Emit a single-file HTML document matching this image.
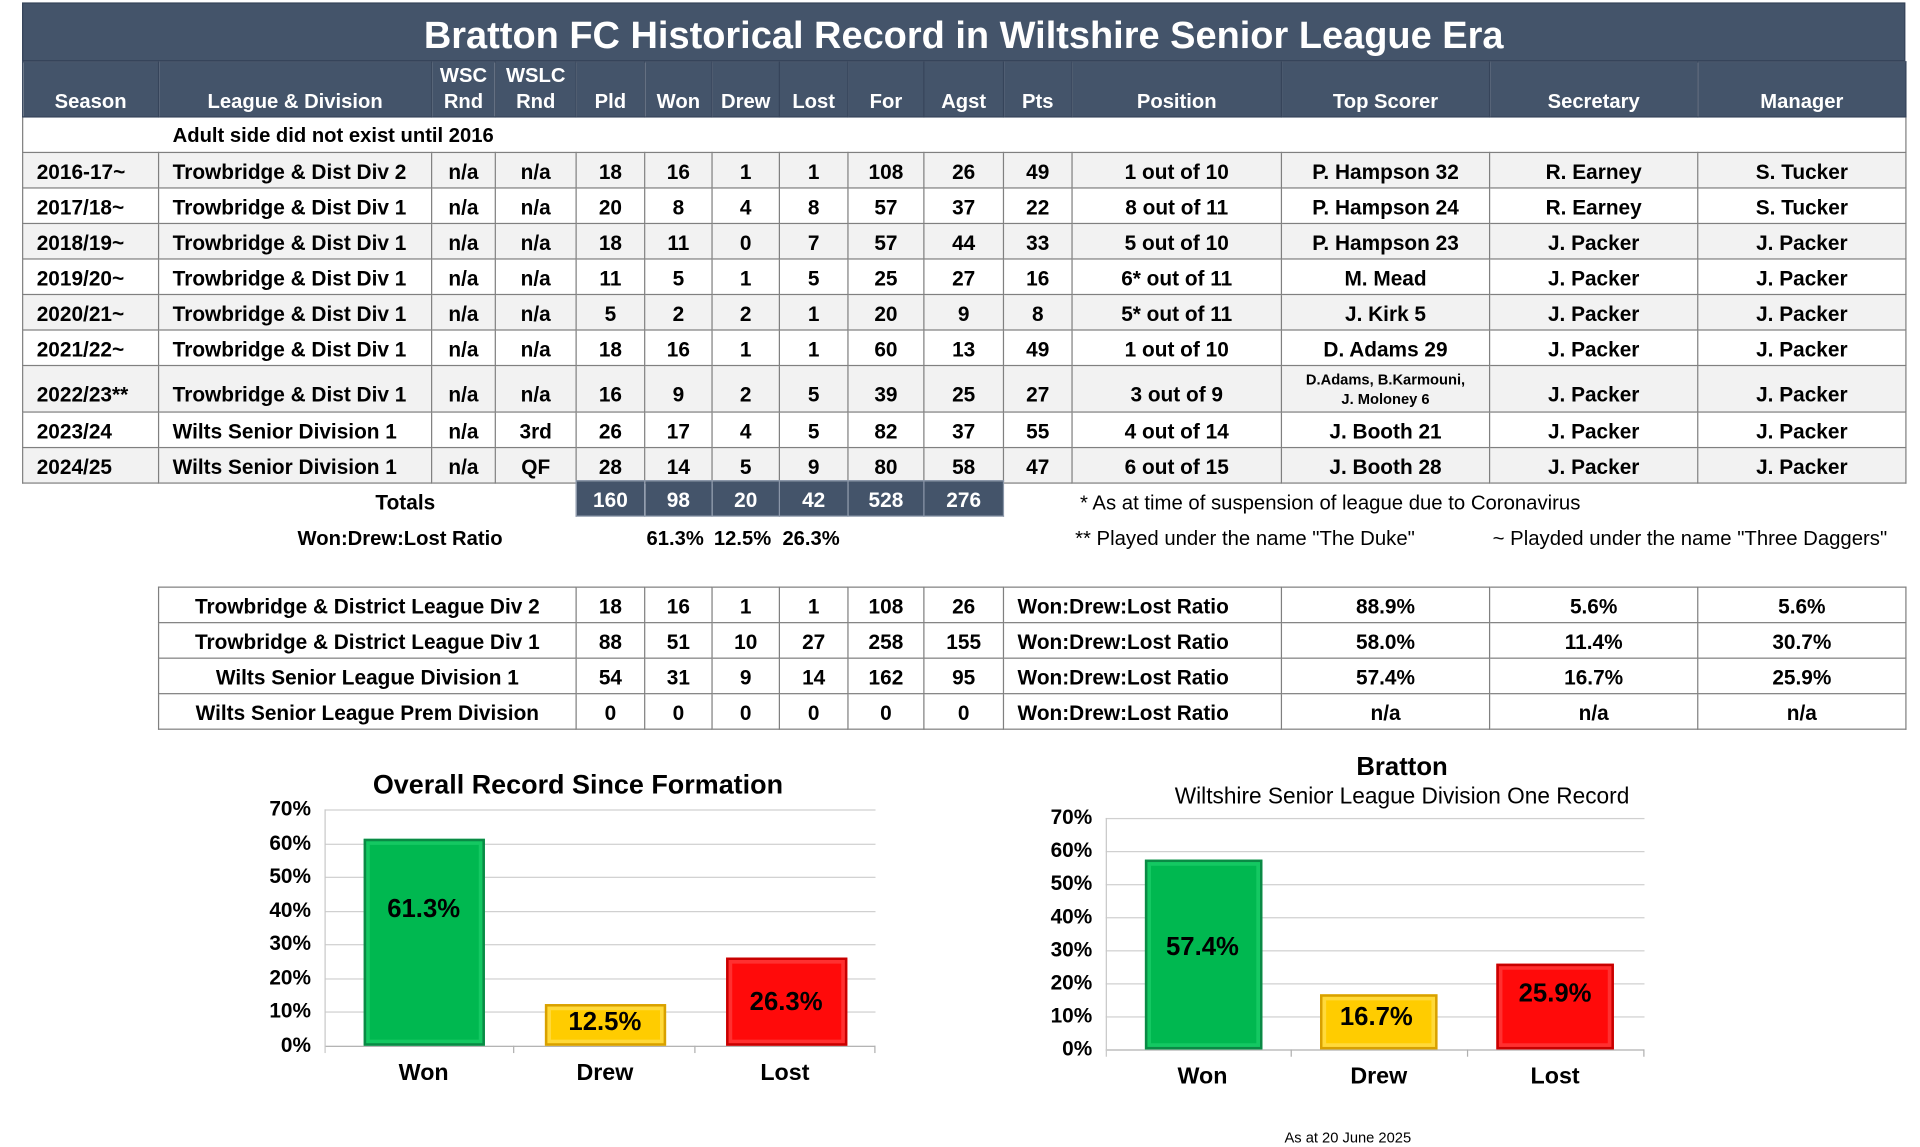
<!DOCTYPE html>
<html><head><meta charset="utf-8"><style>
*{margin:0;padding:0;box-sizing:border-box}
body{width:1920px;height:1147px;background:#fff;overflow:hidden;font-family:"Liberation Sans",Arial,sans-serif;font-weight:bold;color:#000}
#w{position:absolute;left:0;top:0;width:1568px;height:937px;transform:scale(1.22449);transform-origin:0 0}
.a{position:absolute;white-space:nowrap}
table{position:absolute;border-collapse:collapse;table-layout:fixed}
td{font-size:17px;text-align:center;vertical-align:middle;border:1px solid #808080;white-space:nowrap;overflow:hidden;padding-top:3px}
#t td{height:29px}
#t tr.h td{background:#44546a;color:#fff;height:45px;vertical-align:bottom;padding-bottom:1px;padding-top:0;font-size:16.5px;border:1px solid #36445a;line-height:21px}
#t tr.g td{background:#f2f2f2}
.l{text-align:left;padding-left:11px}
.grid{position:absolute;height:1px;background:#d0d0d0}
.yl{position:absolute;font-size:17px;text-align:right;width:50px}
.bar{position:absolute;border:2px solid}
.bl{position:absolute;font-size:21px;text-align:center}
.c{position:absolute;font-size:19px;text-align:center;width:100px}
.fn{position:absolute;white-space:nowrap;font-size:16.6px;font-weight:normal}
</style></head><body><div id="w">
<div class="a" style="left:18px;top:2px;width:1538px;height:48px;background:#44546a;color:#fff;font-size:31px;text-align:center;line-height:52px;border:1px solid #36445a">Bratton FC Historical Record in Wiltshire Senior League Era</div>
<table id="t" style="left:18px;top:50px;width:1538px">
<colgroup><col style="width:111px"><col style="width:223px"><col style="width:52px"><col style="width:66px"><col style="width:56px"><col style="width:55px"><col style="width:55px"><col style="width:56px"><col style="width:62px"><col style="width:65px"><col style="width:56px"><col style="width:171px"><col style="width:170px"><col style="width:170px"><col style="width:170px"></colgroup>
<tr class="h"><td>Season</td><td>League &amp; Division</td><td>WSC<br>Rnd</td><td>WSLC<br>Rnd</td><td>Pld</td><td>Won</td><td>Drew</td><td>Lost</td><td>For</td><td>Agst</td><td>Pts</td><td>Position</td><td>Top Scorer</td><td>Secretary</td><td>Manager</td></tr>
<tr><td colspan="15" class="l" style="padding-left:122px;border-left:1px solid #808080;font-size:16.5px">Adult side did not exist until 2016</td></tr>
<tr class="g"><td class="l">2016-17~</td><td class="l">Trowbridge &amp; Dist Div 2</td><td>n/a</td><td>n/a</td><td>18</td><td>16</td><td>1</td><td>1</td><td>108</td><td>26</td><td>49</td><td>1 out of 10</td><td>P. Hampson 32</td><td>R. Earney</td><td>S. Tucker</td></tr>
<tr><td class="l">2017/18~</td><td class="l">Trowbridge &amp; Dist Div 1</td><td>n/a</td><td>n/a</td><td>20</td><td>8</td><td>4</td><td>8</td><td>57</td><td>37</td><td>22</td><td>8 out of 11</td><td>P. Hampson 24</td><td>R. Earney</td><td>S. Tucker</td></tr>
<tr class="g"><td class="l">2018/19~</td><td class="l">Trowbridge &amp; Dist Div 1</td><td>n/a</td><td>n/a</td><td>18</td><td>11</td><td>0</td><td>7</td><td>57</td><td>44</td><td>33</td><td>5 out of 10</td><td>P. Hampson 23</td><td>J. Packer</td><td>J. Packer</td></tr>
<tr><td class="l">2019/20~</td><td class="l">Trowbridge &amp; Dist Div 1</td><td>n/a</td><td>n/a</td><td>11</td><td>5</td><td>1</td><td>5</td><td>25</td><td>27</td><td>16</td><td>6* out of 11</td><td>M. Mead</td><td>J. Packer</td><td>J. Packer</td></tr>
<tr class="g"><td class="l">2020/21~</td><td class="l">Trowbridge &amp; Dist Div 1</td><td>n/a</td><td>n/a</td><td>5</td><td>2</td><td>2</td><td>1</td><td>20</td><td>9</td><td>8</td><td>5* out of 11</td><td>J. Kirk 5</td><td>J. Packer</td><td>J. Packer</td></tr>
<tr><td class="l">2021/22~</td><td class="l">Trowbridge &amp; Dist Div 1</td><td>n/a</td><td>n/a</td><td>18</td><td>16</td><td>1</td><td>1</td><td>60</td><td>13</td><td>49</td><td>1 out of 10</td><td>D. Adams 29</td><td>J. Packer</td><td>J. Packer</td></tr>
<tr class="g"><td class="l" style="height:38px;vertical-align:bottom;padding-bottom:3px">2022/23**</td><td class="l" style="vertical-align:bottom;padding-bottom:3px">Trowbridge &amp; Dist Div 1</td><td style="vertical-align:bottom;padding-bottom:3px">n/a</td><td style="vertical-align:bottom;padding-bottom:3px">n/a</td><td style="vertical-align:bottom;padding-bottom:3px">16</td><td style="vertical-align:bottom;padding-bottom:3px">9</td><td style="vertical-align:bottom;padding-bottom:3px">2</td><td style="vertical-align:bottom;padding-bottom:3px">5</td><td style="vertical-align:bottom;padding-bottom:3px">39</td><td style="vertical-align:bottom;padding-bottom:3px">25</td><td style="vertical-align:bottom;padding-bottom:3px">27</td><td style="vertical-align:bottom;padding-bottom:3px">3 out of 9</td><td style="font-size:12px;line-height:16px;padding-top:0">D.Adams, B.Karmouni,<br>J. Moloney 6</td><td style="vertical-align:bottom;padding-bottom:3px">J. Packer</td><td style="vertical-align:bottom;padding-bottom:3px">J. Packer</td></tr>
<tr><td class="l">2023/24</td><td class="l">Wilts Senior Division 1</td><td>n/a</td><td>3rd</td><td>26</td><td>17</td><td>4</td><td>5</td><td>82</td><td>37</td><td>55</td><td>4 out of 14</td><td>J. Booth 21</td><td>J. Packer</td><td>J. Packer</td></tr>
<tr class="g"><td class="l">2024/25</td><td class="l">Wilts Senior Division 1</td><td>n/a</td><td>QF</td><td>28</td><td>14</td><td>5</td><td>9</td><td>80</td><td>58</td><td>47</td><td>6 out of 15</td><td>J. Booth 28</td><td>J. Packer</td><td>J. Packer</td></tr>
</table>
<div class="a" style="left:281px;top:401px;width:100px;text-align:center;font-size:17px">Totals</div>
<table style="left:470px;top:392px;width:349px"><tr>
<td style="width:56px;height:29px;background:#44546a;color:#fff;border-color:#8a96a8">160</td><td style="width:55px;background:#44546a;color:#fff;border-color:#8a96a8">98</td><td style="width:55px;background:#44546a;color:#fff;border-color:#8a96a8">20</td><td style="width:56px;background:#44546a;color:#fff;border-color:#8a96a8">42</td><td style="width:62px;background:#44546a;color:#fff;border-color:#8a96a8">528</td><td style="width:65px;background:#44546a;color:#fff;border-color:#8a96a8">276</td></tr></table>
<div class="a" style="left:243px;top:431px;font-size:16.5px">Won:Drew:Lost Ratio</div>
<div class="a" style="left:528px;top:431px;font-size:16.5px">61.3%</div>
<div class="a" style="left:583px;top:431px;font-size:16.5px">12.5%</div>
<div class="a" style="left:639px;top:431px;font-size:16.5px">26.3%</div>
<div class="fn" style="left:882px;top:401px">* As at time of suspension of league due to Coronavirus</div>
<div class="fn" style="left:878px;top:430px">** Played under the name "The Duke"</div>
<div class="fn" style="left:1219px;top:430px">~ Playded under the name "Three Daggers"</div>
<table style="left:129px;top:479px;width:1427px">
<colgroup><col style="width:341px"><col style="width:56px"><col style="width:55px"><col style="width:55px"><col style="width:56px"><col style="width:62px"><col style="width:65px"><col style="width:227px"><col style="width:170px"><col style="width:170px"><col style="width:170px"></colgroup>
<tr><td style="height:29px">Trowbridge &amp; District League Div 2</td><td>18</td><td>16</td><td>1</td><td>1</td><td>108</td><td>26</td><td class="l">Won:Drew:Lost Ratio</td><td>88.9%</td><td>5.6%</td><td>5.6%</td></tr>
<tr><td style="height:29px">Trowbridge &amp; District League Div 1</td><td>88</td><td>51</td><td>10</td><td>27</td><td>258</td><td>155</td><td class="l">Won:Drew:Lost Ratio</td><td>58.0%</td><td>11.4%</td><td>30.7%</td></tr>
<tr><td style="height:29px">Wilts Senior League Division 1</td><td>54</td><td>31</td><td>9</td><td>14</td><td>162</td><td>95</td><td class="l">Won:Drew:Lost Ratio</td><td>57.4%</td><td>16.7%</td><td>25.9%</td></tr>
<tr><td style="height:29px">Wilts Senior League Prem Division</td><td>0</td><td>0</td><td>0</td><td>0</td><td>0</td><td>0</td><td class="l">Won:Drew:Lost Ratio</td><td>n/a</td><td>n/a</td><td>n/a</td></tr>
</table>

<!-- Chart 1 -->
<div class="a" style="left:272px;top:628px;width:400px;text-align:center;font-size:22px">Overall Record Since Formation</div>
<div class="grid" style="left:265px;width:450px;top:661px"></div>
<div class="grid" style="left:265px;width:450px;top:688.6px"></div>
<div class="grid" style="left:265px;width:450px;top:716.1px"></div>
<div class="grid" style="left:265px;width:450px;top:743.7px"></div>
<div class="grid" style="left:265px;width:450px;top:771.3px"></div>
<div class="grid" style="left:265px;width:450px;top:798.9px"></div>
<div class="grid" style="left:265px;width:450px;top:826.4px"></div>
<div class="grid" style="left:265px;width:450px;top:854px;background:#b0b0b0"></div>
<div class="a" style="left:265px;top:661px;width:1px;height:199px;background:#c8c8c8"></div>
<div class="a" style="left:419px;top:854px;width:1px;height:6px;background:#b0b0b0"></div>
<div class="a" style="left:567px;top:854px;width:1px;height:6px;background:#b0b0b0"></div>
<div class="a" style="left:714px;top:854px;width:1px;height:6px;background:#b0b0b0"></div>
<div class="yl" style="left:204px;top:651px">70%</div>
<div class="yl" style="left:204px;top:678.6px">60%</div>
<div class="yl" style="left:204px;top:706.1px">50%</div>
<div class="yl" style="left:204px;top:733.7px">40%</div>
<div class="yl" style="left:204px;top:761.3px">30%</div>
<div class="yl" style="left:204px;top:788.9px">20%</div>
<div class="yl" style="left:204px;top:816.4px">10%</div>
<div class="yl" style="left:204px;top:844px">0%</div>
<div class="bar" style="left:297px;top:685px;width:99px;height:169px;background:#00b850;border-color:#0a8a45;box-shadow:inset 0 0 0 3px #14c862"></div>
<div class="bar" style="left:445px;top:820px;width:99px;height:34px;background:#ffcc00;border-color:#d8a000;box-shadow:inset 0 0 0 3px #ffd93a"></div>
<div class="bar" style="left:593px;top:782px;width:99px;height:72px;background:#ff0a0a;border-color:#c80000;box-shadow:inset 0 0 0 3px #ff3030"></div>
<div class="bl" style="left:296px;top:731px;width:100px">61.3%</div>
<div class="bl" style="left:444px;top:823px;width:100px">12.5%</div>
<div class="bl" style="left:592px;top:807px;width:100px">26.3%</div>
<div class="c" style="left:296px;top:866px">Won</div>
<div class="c" style="left:444px;top:866px">Drew</div>
<div class="c" style="left:591px;top:866px">Lost</div>

<!-- Chart 2 -->
<div class="a" style="left:1045px;top:615px;width:200px;text-align:center;font-size:21px">Bratton</div>
<div class="a" style="left:890px;top:639px;width:510px;text-align:center;font-size:18.5px;font-weight:normal">Wiltshire Senior League Division One Record</div>
<div class="grid" style="left:903px;width:440px;top:668px"></div>
<div class="grid" style="left:903px;width:440px;top:695px"></div>
<div class="grid" style="left:903px;width:440px;top:722px"></div>
<div class="grid" style="left:903px;width:440px;top:749px"></div>
<div class="grid" style="left:903px;width:440px;top:776px"></div>
<div class="grid" style="left:903px;width:440px;top:803px"></div>
<div class="grid" style="left:903px;width:440px;top:830px"></div>
<div class="grid" style="left:903px;width:440px;top:857px;background:#b0b0b0"></div>
<div class="a" style="left:903px;top:668px;width:1px;height:195px;background:#c8c8c8"></div>
<div class="a" style="left:1054px;top:857px;width:1px;height:6px;background:#b0b0b0"></div>
<div class="a" style="left:1198px;top:857px;width:1px;height:6px;background:#b0b0b0"></div>
<div class="a" style="left:1342px;top:857px;width:1px;height:6px;background:#b0b0b0"></div>
<div class="yl" style="left:842px;top:658px">70%</div>
<div class="yl" style="left:842px;top:685px">60%</div>
<div class="yl" style="left:842px;top:712px">50%</div>
<div class="yl" style="left:842px;top:739px">40%</div>
<div class="yl" style="left:842px;top:766px">30%</div>
<div class="yl" style="left:842px;top:793px">20%</div>
<div class="yl" style="left:842px;top:820px">10%</div>
<div class="yl" style="left:842px;top:847px">0%</div>
<div class="bar" style="left:935px;top:702px;width:96px;height:155px;background:#00b850;border-color:#0a8a45;box-shadow:inset 0 0 0 3px #14c862"></div>
<div class="bar" style="left:1078px;top:812px;width:96px;height:45px;background:#ffcc00;border-color:#d8a000;box-shadow:inset 0 0 0 3px #ffd93a"></div>
<div class="bar" style="left:1222px;top:787px;width:96px;height:70px;background:#ff0a0a;border-color:#c80000;box-shadow:inset 0 0 0 3px #ff3030"></div>
<div class="bl" style="left:932px;top:762px;width:100px">57.4%</div>
<div class="bl" style="left:1074px;top:819px;width:100px">16.7%</div>
<div class="bl" style="left:1220px;top:800px;width:100px">25.9%</div>
<div class="c" style="left:932px;top:869px">Won</div>
<div class="c" style="left:1076px;top:869px">Drew</div>
<div class="c" style="left:1220px;top:869px">Lost</div>
<div class="a" style="left:1049px;top:922px;font-size:12px;font-weight:normal">As at 20 June 2025</div>
</div></body></html>
